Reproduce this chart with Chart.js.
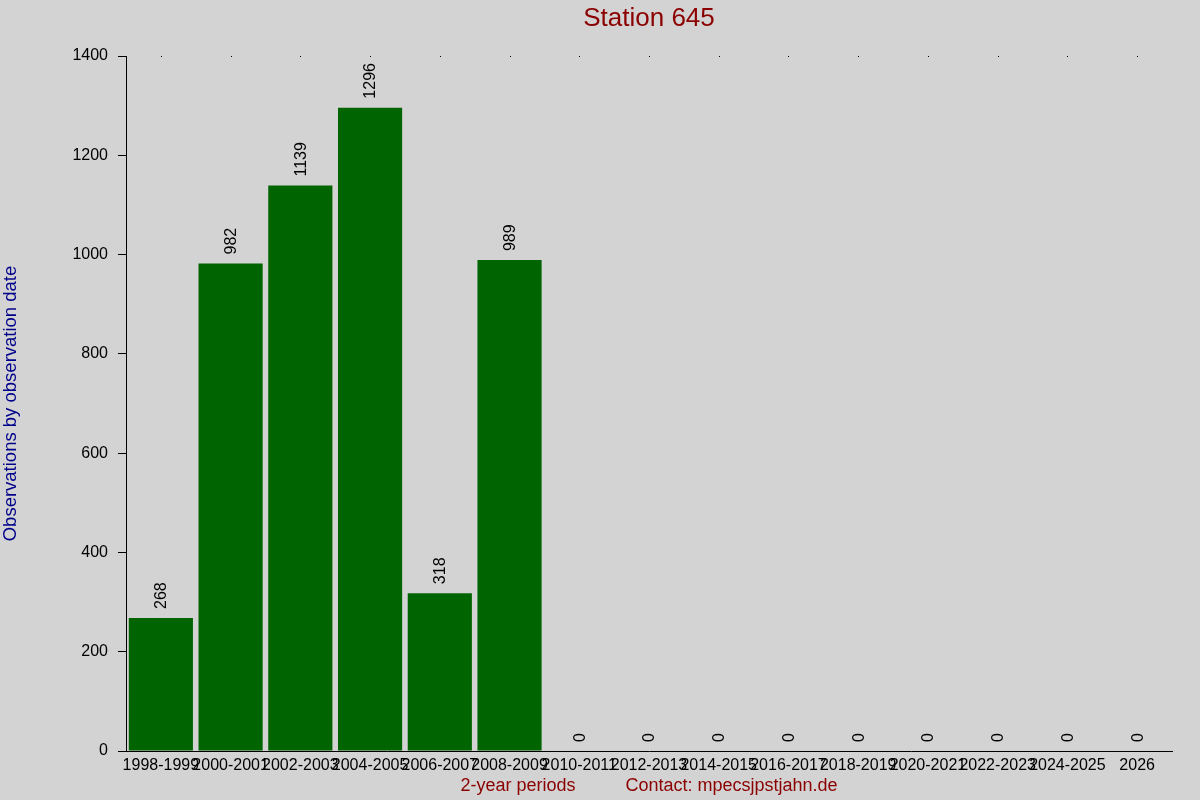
<!DOCTYPE html>
<html>
<head>
<meta charset="utf-8">
<script src="https://cdn.jsdelivr.net/npm/chart.js@4.4.0/dist/chart.umd.min.js"></script>
<style>
  html, body { margin: 0; padding: 0; background: #d3d3d3; }
  #wrap { width: 1200px; height: 800px; }
</style>
</head>
<body>
<div id="wrap"><canvas id="c" width="1200" height="800"></canvas></div>
<script>
const categories = ["1998-1999","2000-2001","2002-2003","2004-2005","2006-2007","2008-2009","2010-2011","2012-2013","2014-2015","2016-2017","2018-2019","2020-2021","2022-2023","2024-2025","2026"];
const observations = [268, 982, 1139, 1296, 318, 989, 0, 0, 0, 0, 0, 0, 0, 0, 0];
const yTicks = [0, 200, 400, 600, 800, 1000, 1200, 1400];
const chartTitle = "Station 645";
const yTitle = "Observations by observation date";
const xTitle = "2-year periods          Contact: mpecsjpstjahn.de";

const FONT = "'Liberation Sans', Arial, sans-serif";

const bgPlugin = {
  id: 'bg',
  beforeDraw(chart) {
    const ctx = chart.ctx;
    ctx.save();
    ctx.fillStyle = '#d3d3d3';
    ctx.fillRect(0, 0, chart.width, chart.height);
    ctx.restore();
  }
};

const overlay = {
  id: 'overlay',
  afterDatasetsDraw(chart) {
    const ctx = chart.ctx;
    const meta = chart.getDatasetMeta(0);
    const ds = chart.data.datasets[0].data;
    const area = chart.chartArea;
    ctx.save();
    // title centred over plot area
    ctx.fillStyle = '#8b0000';
    ctx.font = '26px ' + FONT;
    ctx.textAlign = 'center';
    ctx.textBaseline = 'middle';
    ctx.fillText(chartTitle, (area.left + area.right) / 2, 18.5);
    // rotated value labels
    ctx.fillStyle = '#000';
    ctx.font = '16px ' + FONT;
    ctx.textAlign = 'left';
    ctx.textBaseline = 'middle';
    meta.data.forEach((bar, i) => {
      ctx.save();
      ctx.translate(bar.x + 1, bar.y - 9);
      ctx.rotate(-Math.PI / 2);
      ctx.fillText(String(ds[i]), 0, 0);
      ctx.restore();
    });
    // small dots at top of plot at each category
    const xs = chart.scales.x;
    ctx.fillStyle = '#000';
    categories.forEach((c, i) => {
      const px = Math.round(xs.getPixelForValue(i));
      ctx.fillRect(px, Math.round(area.top), 1, 1);
    });
    ctx.restore();
  }
};

new Chart(document.getElementById('c'), {
  type: 'bar',
  data: {
    labels: categories,
    datasets: [{
      data: observations,
      backgroundColor: '#006400',
      borderWidth: 0,
      barPercentage: 0.92,
      categoryPercentage: 1.0
    }]
  },
  options: {
    responsive: false,
    animation: false,
    devicePixelRatio: 1,
    layout: { padding: { top: 56, right: 28, bottom: 0, left: 0 } },
    plugins: {
      legend: { display: false },
      tooltip: { enabled: false },
      title: { display: false }
    },
    scales: {
      x: {
        offset: true,
        grid: { display: false, drawTicks: false },
        border: { display: true, color: '#000', width: 1 },
        ticks: {
          color: '#000',
          font: { family: FONT, size: 16 },
          autoSkip: false,
          maxRotation: 0,
          minRotation: 0,
          padding: 5
        },
        title: {
          display: true,
          text: xTitle,
          color: '#8b0000',
          font: { family: FONT, size: 18 },
          padding: { top: 0, bottom: 3 }
        },
        afterFit(scale) { scale.height = 49; }
      },
      y: {
        min: 0,
        max: 1400,
        afterBuildTicks(scale) { scale.ticks = yTicks.map(v => ({ value: v })); },
        grid: { display: true, drawOnChartArea: false, drawTicks: true, tickLength: 8, color: '#000' },
        border: { display: true, color: '#000', width: 1 },
        ticks: {
          color: '#000',
          font: { family: FONT, size: 16 },
          padding: 10,
          callback: (v) => String(v)
        },
        title: {
          display: true,
          text: yTitle,
          color: '#00008b',
          font: { family: FONT, size: 18.5 },
          padding: 0
        },
        afterFit(scale) { scale.width = 126; }
      }
    }
  },
  plugins: [bgPlugin, overlay]
});
</script>
</body>
</html>
